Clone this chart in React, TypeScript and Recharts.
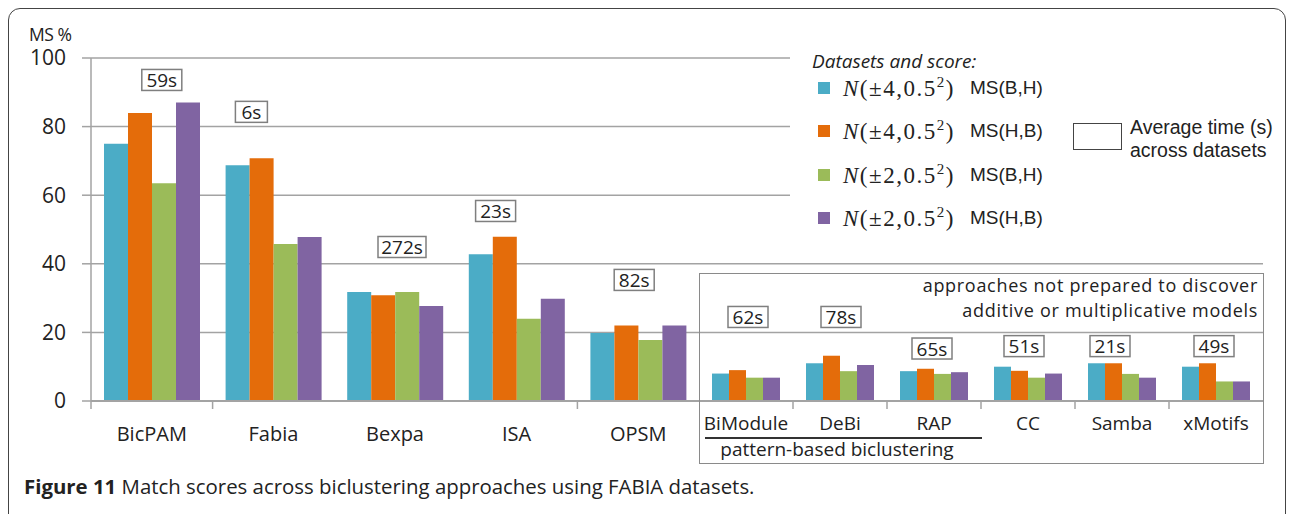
import React from "react";
import { BarChart, Bar, XAxis, YAxis, CartesianGrid, ReferenceDot } from "recharts";

// Match scores (MS %) per approach
const categories = ["BicPAM", "Fabia", "Bexpa", "ISA", "OPSM", "BiModule", "DeBi", "RAP", "CC", "Samba", "xMotifs"];
const n4BH = [75, 68.7, 31.8, 42.8, 19.8, 8, 11, 8.7, 10, 11, 10];
const n4HB = [84, 70.8, 30.8, 47.9, 22, 9, 13.2, 9.4, 8.8, 11, 11];
const n2BH = [63.5, 45.8, 31.8, 24, 17.8, 6.8, 8.7, 7.9, 6.8, 7.9, 5.7];
const n2HB = [87, 47.8, 27.7, 29.8, 22, 6.8, 10.5, 8.4, 8, 6.8, 5.7];
const avgTimes = ["59s", "6s", "272s", "23s", "82s", "62s", "78s", "65s", "51s", "21s", "49s"];
const yTicks = [0, 20, 40, 60, 80, 100];

// the first five are the "prepared" approaches, the rest sit in the inset box
const LEFT_COUNT = 5;

// where the time boxes sit (value height + horizontal nudge), layout only
const timeBoxAt = [93.6, 84.3, 44.9, 55.4, 35.3, 24.5, 24.5, 15.3, 16, 16, 16];
const timeBoxDx = [10, -22, 7, -21, -4, 2, 1, -2, -4, -12, -2];

const series = [
  { key: "n4BH", mean: "4", score: "MS(B,H)", color: "#4bacc6", values: n4BH },
  { key: "n4HB", mean: "4", score: "MS(H,B)", color: "#e46c0a", values: n4HB },
  { key: "n2BH", mean: "2", score: "MS(B,H)", color: "#9bbb59", values: n2BH },
  { key: "n2HB", mean: "2", score: "MS(H,B)", color: "#8064a2", values: n2HB },
];

const rows = categories.map((name, i) => {
  const r: any = { name, time: avgTimes[i], boxY: timeBoxAt[i], dx: timeBoxDx[i] };
  series.forEach((s) => (r[s.key] = s.values[i]));
  return r;
});

const FONT = "'Open Sans', 'Noto Sans', sans-serif";
const ARIAL = "'Liberation Sans', Arial, sans-serif";
const GRID = "#a3a3a3";

function CatTick(props: any) {
  const { x, y, payload, index, boundaryTicks, labelDy, fontSize } = props;
  const half = payload && payload.offset != null ? payload.offset : 0;
  const axisY = y - 8;
  return (
    <g>
      {boundaryTicks.includes(index) && (
        <line x1={x - half} x2={x - half} y1={axisY} y2={axisY + 8} stroke={GRID} strokeWidth={1.5} />
      )}
      <text x={x} y={y + labelDy} textAnchor="middle" fontSize={fontSize} fill="#222" fontFamily={FONT}>
        {payload.value}
      </text>
    </g>
  );
}

function TimeBox(props: any) {
  const { cx, cy, label, dx } = props;
  const w = label.length * 8 + 16;
  const h = 21;
  return (
    <g>
      <rect x={cx + dx - w / 2} y={cy - h / 2} width={w} height={h} fill="#fff" stroke="#7f7f7f" strokeWidth={1.5} />
      <text x={cx + dx} y={cy + 7} textAnchor="middle" fontSize={19} fill="#222" fontFamily={FONT}>
        {label}
      </text>
    </g>
  );
}

function Panel({ data, width, left, showY, boundaryTicks, labelDy, labelSize }: any) {
  return (
    <div style={{ position: "absolute", left, top: 0 }}>
      <BarChart
        width={width}
        height={470}
        data={data}
        margin={{ top: 58, right: 0, bottom: 9, left: 0 }}
        barGap={0}
        barCategoryGap={13}
      >
        <CartesianGrid vertical={false} stroke={GRID} strokeWidth={1.5} />
        <XAxis
          dataKey="name"
          interval={0}
          height={60}
          tickSize={8}
          tickMargin={0}
          tickLine={false}
          axisLine={{ stroke: GRID, strokeWidth: 2 }}
          tick={<CatTick boundaryTicks={boundaryTicks} labelDy={labelDy} fontSize={labelSize} />}
        />
        <YAxis
          hide={!showY}
          domain={[0, 100]}
          ticks={yTicks}
          width={91}
          tickSize={9}
          tickMargin={16}
          axisLine={{ stroke: GRID, strokeWidth: 1.5 }}
          tickLine={{ stroke: GRID, strokeWidth: 1.5 }}
          tick={{ fontSize: 21, fill: "#222", fontFamily: FONT }}
        />
        {series.map((s) => (
          <Bar key={s.key} dataKey={s.key} fill={s.color} isAnimationActive={false} />
        ))}
        {data.map((d: any) => (
          <ReferenceDot
            key={d.name}
            x={d.name}
            y={d.boxY}
            r={0}
            shape={(p: any) => <TimeBox cx={p.cx} cy={p.cy} label={d.time} dx={d.dx} />}
          />
        ))}
      </BarChart>
    </div>
  );
}

function MathLabel({ mean }: { mean: string }) {
  return (
    <span
      style={{
        fontFamily: "'Liberation Serif', serif",
        fontSize: 23,
        letterSpacing: 1.5,
        display: "inline-block",
        width: 123,
        whiteSpace: "nowrap",
      }}
    >
      <i>N</i>(±{mean},0.5<sup style={{ fontSize: 15 }}>2</sup>)
    </span>
  );
}

const insetLine: React.CSSProperties = {
  position: "absolute",
  right: 5,
  fontSize: 18,
  letterSpacing: 0.7,
  lineHeight: "18px",
  whiteSpace: "nowrap",
};

export default function App() {
  const leftRows = rows.slice(0, LEFT_COUNT);
  const rightRows = rows.slice(LEFT_COUNT);

  return (
    <div
      style={{
        position: "absolute",
        left: 0,
        top: 0,
        width: 1291,
        height: 514,
        overflow: "hidden",
        background: "#fff",
        fontFamily: FONT,
        color: "#222",
      }}
    >
      {/* outer frame */}
      <div
        style={{
          position: "absolute",
          left: 8,
          top: 8,
          width: 1276,
          height: 530,
          border: "1.5px solid #444",
          borderRadius: 12,
        }}
      />

      <div style={{ position: "absolute", left: 29, top: 22, fontSize: 17.5, letterSpacing: -0.5 }}>MS %</div>

      <Panel data={leftRows} width={699} left={0} showY boundaryTicks={[0, 1, 4]} labelDy={32} labelSize={20} />
      <Panel
        data={rightRows}
        width={564}
        left={699}
        showY={false}
        boundaryTicks={[1, 2, 3, 4, 5]}
        labelDy={21}
        labelSize={19}
      />

      {/* inset box for approaches without additive/multiplicative models */}
      <div
        style={{
          position: "absolute",
          left: 699,
          top: 273,
          width: 563,
          height: 189,
          border: "1.5px solid #8a8a8a",
          pointerEvents: "none",
        }}
      >
        <div style={{ ...insetLine, top: 2 }}>approaches not prepared to discover</div>
        <div style={{ ...insetLine, top: 26.5 }}>additive or multiplicative models</div>
      </div>
      <div style={{ position: "absolute", left: 705, top: 437, width: 277, height: 2, background: "#333" }} />
      <div
        style={{
          position: "absolute",
          left: 705,
          top: 440,
          width: 264,
          textAlign: "center",
          fontSize: 19,
          lineHeight: "18px",
          whiteSpace: "nowrap",
        }}
      >
        pattern-based biclustering
      </div>

      {/* legend */}
      <div
        style={{
          position: "absolute",
          left: 790,
          top: 38,
          width: 488,
          height: 215,
          background: "#fff",
        }}
      >
        <div style={{ position: "absolute", left: 22, top: 10, fontStyle: "italic", fontSize: 19 }}>
          Datasets and score:
        </div>
        {series.map((s, i) => (
          <div
            key={s.key}
            style={{
              position: "absolute",
              left: 28,
              top: 36 + i * 43.3,
              height: 28,
              display: "flex",
              alignItems: "center",
              whiteSpace: "nowrap",
            }}
          >
            <span style={{ width: 12, height: 12, background: s.color, display: "inline-block", marginRight: 13 }} />
            <MathLabel mean={s.mean} />
            <span style={{ fontFamily: ARIAL, fontSize: 19, marginLeft: 4 }}>{s.score}</span>
          </div>
        ))}
        <div
          style={{
            position: "absolute",
            left: 283,
            top: 85,
            width: 47,
            height: 25,
            border: "1.5px solid #444",
          }}
        />
        <div style={{ position: "absolute", left: 340, top: 80, fontFamily: ARIAL, fontSize: 19.5, lineHeight: "18px", whiteSpace: "nowrap" }}>
          Average time (s)
        </div>
        <div style={{ position: "absolute", left: 340, top: 103, fontFamily: ARIAL, fontSize: 19.5, lineHeight: "18px", whiteSpace: "nowrap" }}>
          across datasets
        </div>
      </div>

      <div style={{ position: "absolute", left: 24, top: 472, fontSize: 20.4, whiteSpace: "nowrap" }}>
        <b>Figure 11</b> Match scores across biclustering approaches using FABIA datasets.
      </div>
    </div>
  );
}
